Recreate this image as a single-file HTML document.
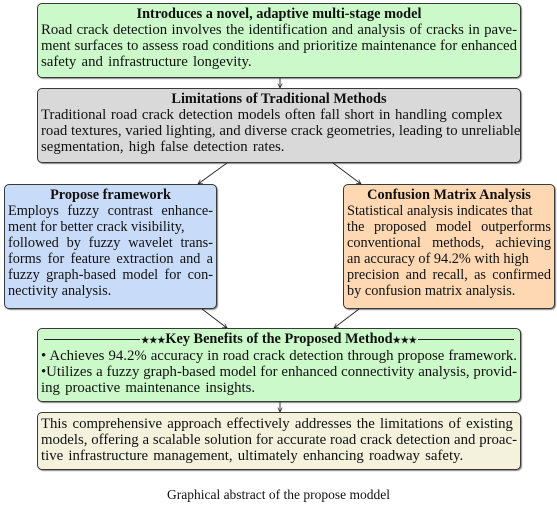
<!DOCTYPE html>
<html><head><meta charset="utf-8"><style>
body{margin:0;width:557px;height:506px;background:#fff;position:relative;overflow:hidden;font-family:"Liberation Serif",serif;font-size:14.8px;color:#111}
.b{position:absolute;border:1.3px solid #3a3a3a;border-radius:5px;box-shadow:1px 1px 1px #888;box-sizing:border-box;padding:2px 3px 0 3px;line-height:16px}
.s{font-size:14.3px}
.t{font-weight:bold;text-align:center;font-size:14.3px}
.j{text-align:justify;text-align-last:justify;white-space:nowrap}
.l{white-space:nowrap}
.w{word-spacing:1.5px}
svg{position:absolute;left:0;top:0}
</style></head><body>
<div class="b" style="left:37px;top:3px;width:484px;height:75px;background:#cbf9c9">
<div class="t">Introduces a novel, adaptive multi-stage model</div>
<div class="j">Road crack detection involves the identification and analysis of cracks in pave-</div>
<div class="j">ment surfaces to assess road conditions and prioritize maintenance for enhanced</div>
<div class="l w">safety and infrastructure longevity.</div>
</div>
<div class="b" style="left:37px;top:88px;width:484px;height:75px;background:#d9d9d9">
<div class="t">Limitations of Traditional Methods</div>
<div class="l" style="word-spacing:1px">Traditional road crack detection models often fall short in handling complex</div>
<div class="j">road textures, varied lighting, and diverse crack geometries, leading to unreliable</div>
<div class="l w">segmentation, high false detection rates.</div>
</div>
<div class="b s" style="left:4px;top:184px;width:213px;height:125px;background:#c8dbf8">
<div class="t">Propose framework</div>
<div class="j">Employs fuzzy contrast enhance-</div>
<div class="l">ment for better crack visibility,</div>
<div class="j">followed by fuzzy wavelet trans-</div>
<div class="j">forms for feature extraction and a</div>
<div class="j">fuzzy graph-based model for con-</div>
<div class="l">nectivity analysis.</div>
</div>
<div class="b s" style="left:343px;top:184px;width:212px;height:125px;background:#fdd8b3">
<div class="t">Confusion Matrix Analysis</div>
<div class="l">Statistical analysis indicates that</div>
<div class="j">the proposed model outperforms</div>
<div class="j">conventional methods, achieving</div>
<div class="l">an accuracy of 94.2% with high</div>
<div class="j">precision and recall, as confirmed</div>
<div class="l">by confusion matrix analysis.</div>
</div>
<div class="b" style="left:37px;top:328px;width:484px;height:74px;background:#cbf9c9">
<div class="t" style="position:relative"><span style="position:absolute;left:3px;right:3px;top:8px;border-top:1px solid #222"></span><span style="position:relative;background:#cbf9c9;padding:0 1px"><span style="font-size:9px">★★★</span>Key Benefits of the Proposed Method<span style="font-size:9px">★★★</span></span></div>
<div class="j">• Achieves 94.2% accuracy in road crack detection through propose framework.</div>
<div class="j">•Utilizes a fuzzy graph-based model for enhanced connectivity analysis, provid-</div>
<div class="l w">ing proactive maintenance insights.</div>
</div>
<div class="b" style="left:37px;top:412px;width:484px;height:58px;background:#f4f2dc;padding-top:3px">
<div class="l w">This comprehensive approach effectively addresses the limitations of existing</div>
<div class="j">models, offering a scalable solution for accurate road crack detection and proac-</div>
<div class="l w">tive infrastructure management, ultimately enhancing roadway safety.</div>
</div>
<div style="position:absolute;left:0;width:557px;top:487px;text-align:center;font-size:13.5px">Graphical abstract of the propose moddel</div>
<svg width="557" height="506">
<defs><marker id="a" markerWidth="6" markerHeight="6" refX="5" refY="3" orient="auto"><path d="M0,0.5 L5,3 L0,5.5" fill="none" stroke="#222" stroke-width="0.8"/></marker></defs>
<g stroke="#222" stroke-width="0.9" marker-end="url(#a)">
<line x1="280" y1="78" x2="280" y2="88"/>
<line x1="227" y1="163" x2="198" y2="184"/>
<line x1="333" y1="163" x2="361" y2="184"/>
<line x1="202" y1="309" x2="227" y2="328"/>
<line x1="359" y1="309" x2="334" y2="328"/>
<line x1="280" y1="402" x2="280" y2="412"/>
</g></svg>
</body></html>
